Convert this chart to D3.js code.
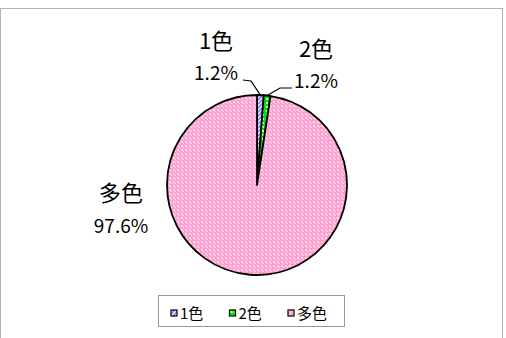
<!DOCTYPE html>
<html lang="ja">
<head>
<meta charset="utf-8"/>
<script src="https://d3js.org/d3.v7.min.js"></script>
<style>
  body { margin: 0; background: #fff; }
  .lbl { font-family: "Noto Sans CJK JP", sans-serif; fill: #000; }
  .cat { font-size: 22px; }
  .pct { font-size: 19px; }
  .leg { font-family: "Noto Sans CJK JP", sans-serif; font-size: 15px; fill: #000; }
</style>
</head>
<body>
<svg id="chart" width="506" height="338"></svg>
<script>
  // data
  const categories = ["1色", "2色", "多色"];
  const values = [1.2, 1.2, 97.6];
  const percentLabels = ["1.2%", "1.2%", "97.6%"];

  const svg = d3.select("#chart");
  const defs = svg.append("defs");

  // fill patterns (excel-like hatches)
  const pBlue = defs.append("pattern").attr("id", "pat0")
    .attr("patternUnits", "userSpaceOnUse").attr("width", 4).attr("height", 4);
  pBlue.append("rect").attr("width", 4).attr("height", 4).attr("fill", "#fff");
  pBlue.append("path").attr("d", "M-1,5 L5,-1 M-1,1 L1,-1 M3,5 L5,3")
    .attr("stroke", "#8080ff").attr("stroke-width", 1.6);

  const pGreen = defs.append("pattern").attr("id", "pat1")
    .attr("patternUnits", "userSpaceOnUse").attr("width", 4).attr("height", 4);
  pGreen.append("rect").attr("width", 4).attr("height", 4).attr("fill", "#00e600");
  pGreen.append("rect").attr("x", 1).attr("y", 1).attr("width", 2).attr("height", 2).attr("fill", "#ccffcc");

  const pPink = defs.append("pattern").attr("id", "pat2")
    .attr("patternUnits", "userSpaceOnUse").attr("width", 4).attr("height", 4);
  pPink.append("rect").attr("width", 4).attr("height", 4).attr("fill", "#ff9fd0");
  pPink.append("rect").attr("x", 0).attr("y", 0).attr("width", 2).attr("height", 2).attr("fill", "#ffd6ec");
  pPink.append("rect").attr("x", 2).attr("y", 2).attr("width", 1).attr("height", 1).attr("fill", "#ffe8f4");

  // chart area border
  svg.append("rect").attr("x", 0.5).attr("y", 8.5).attr("width", 502).attr("height", 340)
    .attr("fill", "#fff").attr("stroke", "#b4b4b4").attr("stroke-width", 1);

  const cx = 257, cy = 185, r = 90;
  const g = svg.append("g").attr("transform", `translate(${cx},${cy})`);

  const pie = d3.pie().sort(null).value(d => d)(values);
  const arc = d3.arc().innerRadius(0).outerRadius(r);
  const edge = d3.arc().innerRadius(r).outerRadius(r);

  g.selectAll("path.slice").data(pie).enter().append("path")
    .attr("class", "slice")
    .attr("d", arc)
    .attr("fill", (d, i) => `url(#pat${i})`)
    .attr("stroke", "#000").attr("stroke-width", 1.8).attr("stroke-linejoin", "round");

  // label layout (relative to pie centre)
  const labelPos = [
    { x: -41, y1: -136, y2: -105, elbow: [[-14, -105], [-6, -104]] },
    { x: 59, y1: -128, y2: -97, elbow: [[23, -97], [35, -97]] },
    { x: -136, y1: 16, y2: 48, elbow: null }
  ];

  pie.forEach((d, i) => {
    const lp = labelPos[i];
    const t = g.append("text").attr("class", "lbl").attr("text-anchor", "middle");
    t.append("tspan").attr("class", "cat").attr("x", lp.x).attr("y", lp.y1).text(categories[i]);
    t.append("tspan").attr("class", "pct").attr("x", lp.x).attr("y", lp.y2).text(percentLabels[i]);
    if (lp.elbow) {
      const e = edge.centroid(d);
      const pts = i === 0 ? [lp.elbow[0], lp.elbow[1], e] : [e, lp.elbow[0], lp.elbow[1]];
      g.append("path").attr("d", d3.line()(pts))
        .attr("fill", "none").attr("stroke", "#000").attr("stroke-width", 1.2);
    }
  });

  // legend
  const leg = svg.append("g");
  leg.append("rect").attr("x", 158.5).attr("y", 295.5).attr("width", 186).attr("height", 31)
    .attr("fill", "#fff").attr("stroke", "#999").attr("stroke-width", 1);
  const legX = d3.scalePoint().domain(categories).range([171, 288]);
  const items = leg.selectAll("g.item").data(categories).enter().append("g")
    .attr("class", "item").attr("transform", d => `translate(${legX(d)},310)`);
  items.append("rect").attr("width", 6).attr("height", 6)
    .attr("fill", (d, i) => `url(#pat${i})`).attr("stroke", "#000").attr("stroke-width", 1.2);
  items.append("text").attr("class", "leg").attr("x", 9).attr("y", 9).text(d => d);
</script>
</body>
</html>
